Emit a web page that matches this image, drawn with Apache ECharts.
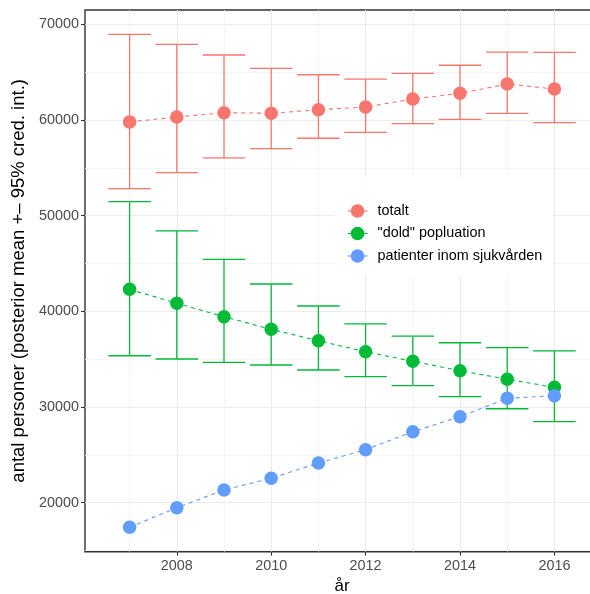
<!DOCTYPE html>
<html><head><meta charset="utf-8">
<script src="https://cdn.jsdelivr.net/npm/echarts@6/dist/echarts.min.js"></script>
<style>html,body{margin:0;padding:0;background:#fff}#c{width:590px;height:594px}</style>
</head><body><div id="c"></div>
<script>
const years = [2007, 2008, 2009, 2010, 2011, 2012, 2013, 2014, 2015, 2016];
const totalMean = [59800, 60310, 60760, 60700, 61070, 61360, 62190, 62790, 63760, 63240];
const totalLow  = [52820, 54490, 56030, 57000, 58090, 58710, 59610, 60070, 60700, 59720];
const totalHigh = [68950, 67910, 66790, 65400, 64730, 64280, 64880, 65720, 67100, 67070];
const doldMean = [42300, 40840, 39440, 38120, 36930, 35780, 34780, 33800, 32900, 32060];
const doldLow  = [35360, 35020, 34670, 34390, 33870, 33170, 32230, 31080, 29820, 28470];
const doldHigh = [51460, 48400, 45440, 42860, 40560, 38680, 37420, 36720, 36200, 35860];
const patMean = [17430, 19480, 21330, 22550, 24150, 25540, 27420, 28990, 30910, 31180];
const seriesNames = ['totalt', '"dold" popluation', 'patienter inom sjukvården'];
const xMajor = [2008, 2010, 2012, 2014, 2016];
const xMinor = [2007, 2009, 2011, 2013, 2015];
const yMajor = [20000, 30000, 40000, 50000, 60000, 70000];
const yMinor = [15000, 25000, 35000, 45000, 55000, 65000];

const colors = ['#F8766D', '#00BA38', '#619CFF'];
const FONT = '"Liberation Sans", Arial, sans-serif';
const capHalf = 0.45;

function pts(m) { return years.map((y, i) => [y, m[i]]); }
function ci(lo, hi) { return years.map((y, i) => [y, lo[i], hi[i]]); }

function renderErr(params, api) {
  const x = api.value(0), lo = api.value(1), hi = api.value(2);
  const a = api.coord([x, lo]), b = api.coord([x, hi]);
  const l1 = api.coord([x - capHalf, hi]), r1 = api.coord([x + capHalf, hi]);
  const l2 = api.coord([x - capHalf, lo]), r2 = api.coord([x + capHalf, lo]);
  const st = { stroke: api.visual('color'), lineWidth: 1.3 };
  return { type: 'group', children: [
    { type: 'line', shape: { x1: a[0], y1: a[1], x2: b[0], y2: b[1] }, style: st },
    { type: 'line', shape: { x1: l1[0], y1: l1[1], x2: r1[0], y2: r1[1] }, style: st },
    { type: 'line', shape: { x1: l2[0], y1: l2[1], x2: r2[0], y2: r2[1] }, style: st }
  ]};
}

function errSeries(name, data, color) {
  return { type: 'custom', name: name, data: data, renderItem: renderErr,
    itemStyle: { color: color }, z: 2, silent: true, encode: { x: 0, y: [1, 2] } };
}
function lineSeries(name, data, color) {
  return { type: 'line', name: name, data: data, symbol: 'circle', symbolSize: 13.5,
    itemStyle: { color: color }, lineStyle: { color: color, width: 1.1, type: [4, 4] },
    z: 3, animation: false };
}

const chart = echarts.init(document.getElementById('c'), null, { renderer: 'canvas' });
const gridLineMajor = { show: true, lineStyle: { color: '#EBEBEB', width: 1.1 } };
const gridLineMinor = { show: true, lineStyle: { color: '#F2F2F2', width: 0.8 } };
chart.setOption({
  animation: false,
  backgroundColor: '#fff',
  grid: { left: 85, top: 10, width: 514, height: 541.7, show: true, borderColor: '#333', borderWidth: 1.4,
    backgroundColor: 'transparent', containLabel: false, outerBoundsMode: 'none' },
  xAxis: [
    { type: 'value', min: 2006.055, max: 2016.945, position: 'bottom',
      axisLine: { show: false },
      axisTick: { show: true, length: 4, lineStyle: { color: '#333', width: 1.1 }, customValues: xMajor },
      axisLabel: { customValues: xMajor, formatter: v => String(v), color: '#4D4D4D', fontSize: 14.4, fontFamily: FONT, margin: 7 },
      splitLine: gridLineMajor,
      name: 'år', nameLocation: 'middle', nameGap: 25,
      nameTextStyle: { color: '#000', fontSize: 17, fontFamily: FONT } },
    { type: 'value', min: 2006.055, max: 2016.945, position: 'top',
      axisLine: { show: false }, axisLabel: { show: false },
      axisTick: { show: false, customValues: xMinor },
      splitLine: gridLineMinor }
  ],
  yAxis: [
    { type: 'value', min: 14879, max: 71495, position: 'left',
      axisLine: { show: false },
      axisTick: { show: true, length: 4, lineStyle: { color: '#333', width: 1.1 }, customValues: yMajor },
      axisLabel: { customValues: yMajor, formatter: v => String(v), color: '#4D4D4D', fontSize: 14.4, fontFamily: FONT, margin: 6 },
      splitLine: gridLineMajor,
      name: 'antal personer (posterior mean +– 95% cred. int.)', nameLocation: 'middle', nameGap: 54,
      nameTextStyle: { color: '#000', fontSize: 18.5, fontFamily: FONT } },
    { type: 'value', min: 14879, max: 71495, position: 'right',
      axisLine: { show: false }, axisLabel: { show: false },
      axisTick: { show: false, customValues: yMinor },
      splitLine: gridLineMinor }
  ],
  legend: {
    data: seriesNames, orient: 'vertical', left: 335, top: 177,
    backgroundColor: '#fff', padding: [27, 10, 13, 12],
    itemWidth: 20, itemHeight: 17, itemGap: 8.5,
    lineStyle: { type: 'solid', width: 1.1 },
    textStyle: { color: '#000', fontSize: 14.4, fontFamily: FONT, padding: [0, 0, 0, 5] },
    selectedMode: false
  },
  series: [
    errSeries('totalt_ci', ci(totalLow, totalHigh), colors[0]),
    errSeries('dold_ci', ci(doldLow, doldHigh), colors[1]),
    lineSeries(seriesNames[0], pts(totalMean), colors[0]),
    lineSeries(seriesNames[1], pts(doldMean), colors[1]),
    lineSeries(seriesNames[2], pts(patMean), colors[2])
  ]
});
</script></body></html>
